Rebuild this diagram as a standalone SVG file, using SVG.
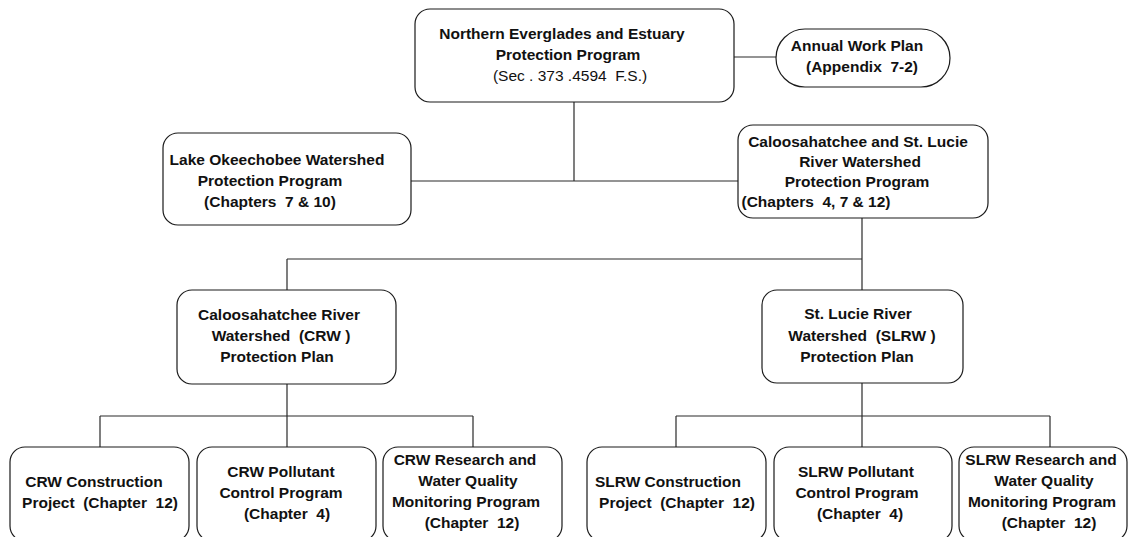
<svg xmlns="http://www.w3.org/2000/svg" width="1128" height="537" viewBox="0 0 1128 537">
<style>
.box{fill:#fff;stroke:#1a1a1a;stroke-width:1.2}
.ln{fill:none;stroke:#2a2a2a;stroke-width:1.2}
text{font-family:"Liberation Sans",Arial,sans-serif;font-size:15.5px;font-weight:bold;fill:#111;text-anchor:middle;white-space:pre}
text.reg{font-weight:normal}
</style>
<rect width="1128" height="537" fill="#fff"/>
<g id="connectors">
<path class="ln" d="M734 57H776"/>
<path class="ln" d="M574 102V181M411 181H738"/>
<path class="ln" d="M862 218V290M287 259H862M287 259V290"/>
<path class="ln" d="M287 384V447M100 416H473M100 416V447M473 416V447"/>
<path class="ln" d="M862 383V447M676 416H1050M676 416V447M1050 416V447"/>
</g>
<g id="nee">
<rect class="box" x="415" y="9" width="319" height="93" rx="15"/>
<text x="562" y="39">Northern Everglades and Estuary</text>
<text x="568" y="60">Protection Program</text>
<text class="reg" x="570" y="81">(Sec . 373 .4594  F.S.)</text>
</g>
<g id="awp">
<rect class="box" x="776" y="29" width="174" height="58" rx="29"/>
<text x="857" y="51">Annual Work Plan</text>
<text x="862" y="72">(Appendix  7-2)</text>
</g>
<g id="lake">
<rect class="box" x="163" y="133" width="248" height="92" rx="15"/>
<text x="277" y="165">Lake Okeechobee Watershed</text>
<text x="270" y="186">Protection Program</text>
<text x="270" y="207">(Chapters  7 &amp; 10)</text>
</g>
<g id="cslr">
<rect class="box" x="738" y="125" width="250" height="93" rx="15"/>
<text x="858" y="147">Caloosahatchee and St. Lucie</text>
<text x="860" y="167">River Watershed</text>
<text x="857" y="187">Protection Program</text>
<text x="816" y="207">(Chapters  4, 7 &amp; 12)</text>
</g>
<g id="crw">
<rect class="box" x="177" y="290" width="219" height="94" rx="15"/>
<text x="279" y="320">Caloosahatchee River</text>
<text x="281" y="341">Watershed  (CRW )</text>
<text x="277" y="362">Protection Plan</text>
</g>
<g id="slrw">
<rect class="box" x="762" y="290" width="201" height="93" rx="15"/>
<text x="858" y="319">St. Lucie River</text>
<text x="862" y="341">Watershed  (SLRW )</text>
<text x="857" y="362">Protection Plan</text>
</g>
<g id="crw-construction">
<rect class="box" x="10" y="447" width="179" height="94" rx="15"/>
<text x="94" y="487">CRW Construction</text>
<text x="100" y="508">Project  (Chapter  12)</text>
</g>
<g id="crw-pollutant">
<rect class="box" x="197" y="447" width="179" height="94" rx="15"/>
<text x="281" y="477">CRW Pollutant</text>
<text x="281" y="498">Control Program</text>
<text x="287" y="519">(Chapter  4)</text>
</g>
<g id="crw-research">
<rect class="box" x="383" y="447" width="179" height="94" rx="15"/>
<text x="465" y="465">CRW Research and</text>
<text x="468" y="486">Water Quality</text>
<text x="466" y="507">Monitoring Program</text>
<text x="472" y="528">(Chapter  12)</text>
</g>
<g id="slrw-construction">
<rect class="box" x="587" y="447" width="179" height="94" rx="15"/>
<text x="668" y="487">SLRW Construction</text>
<text x="677" y="508">Project  (Chapter  12)</text>
</g>
<g id="slrw-pollutant">
<rect class="box" x="774" y="447" width="178" height="94" rx="15"/>
<text x="856" y="477">SLRW Pollutant</text>
<text x="857" y="498">Control Program</text>
<text x="860" y="519">(Chapter  4)</text>
</g>
<g id="slrw-research">
<rect class="box" x="959" y="447" width="168" height="94" rx="15"/>
<text x="1041" y="465">SLRW Research and</text>
<text x="1044" y="486">Water Quality</text>
<text x="1042" y="507">Monitoring Program</text>
<text x="1049" y="528">(Chapter  12)</text>
</g>
</svg>
